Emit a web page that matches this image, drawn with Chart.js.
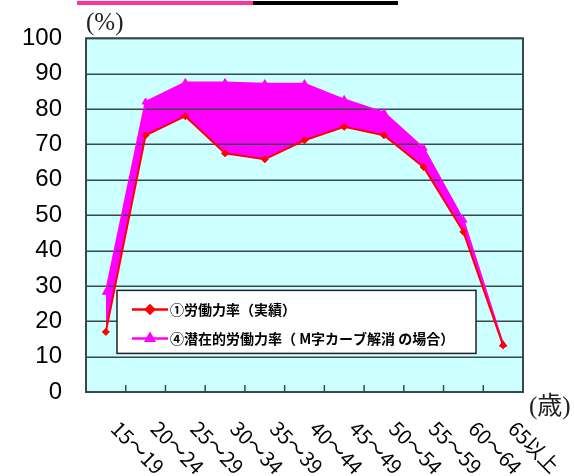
<!DOCTYPE html>
<html>
<head>
  <meta charset="utf-8">
  <title>労働力率</title>
  <script src="https://cdn.jsdelivr.net/npm/chart.js"></script>
  <style>
    html, body { margin: 0; padding: 0; background: #fff; }
    #wrap { width: 574px; height: 476px; }
  </style>
</head>
<body>
  <div id="wrap"><canvas id="laborChart" width="574" height="476"></canvas></div>

  <script>
    const ageGroups = ['15～19', '20～24', '25～29', '30～34', '35～39', '40～44',
                       '45～49', '50～54', '55～59', '60～64', '65以上'];
    const actualRate = [17, 72.6, 78, 67.5, 65.8, 71.2, 75, 72.6, 63.6, 45.3, 13.2];
    const potentialRate = [28.2, 82, 87.5, 87.5, 87.2, 87.2, 82.7, 79, 68.9, 48.6, 13.4];
    const seriesNames = ['①労働力率（実績）', '④潜在的労働力率（ M字カーブ解消 の場合）'];

    const gridColor = '#3c4848';
    const jpFont = "'Noto Sans CJK JP', sans-serif";

    const decor = {
      id: 'decor',
      beforeDraw(chart) {
        const { ctx, chartArea: a } = chart;
        ctx.save();
        ctx.fillStyle = '#CCFFFF';
        ctx.fillRect(a.left, a.top, a.right - a.left, a.bottom - a.top);
        ctx.restore();
      },
      // gridlines over the fill, under the lines
      beforeDatasetDraw(chart, args) {
        if (args.index !== 1) return;
        const { ctx, chartArea: a } = chart;
        const ys = chart.scales.y;
        ctx.save();
        ctx.strokeStyle = gridColor;
        ctx.lineWidth = 1.5;
        ys.ticks.forEach(t => {
          const py = Math.round(ys.getPixelForValue(t.value)) + 0.25;
          ctx.beginPath();
          ctx.moveTo(a.left, py);
          ctx.lineTo(a.right, py);
          ctx.stroke();
        });
        ctx.restore();
      },
      afterDatasetsDraw(chart) {
        const { ctx, chartArea: a } = chart;
        const xs = chart.scales.x;
        ctx.save();
        // plot border
        ctx.strokeStyle = gridColor;
        ctx.lineWidth = 2;
        ctx.strokeRect(a.left, a.top, a.right - a.left, a.bottom - a.top);
        // inward tick marks between categories
        ctx.lineWidth = 1.5;
        for (let i = 1; i < ageGroups.length; i++) {
          const px = (xs.getPixelForValue(i - 1) + xs.getPixelForValue(i)) / 2;
          ctx.beginPath();
          ctx.moveTo(px, a.bottom);
          ctx.lineTo(px, a.bottom - 7);
          ctx.stroke();
        }
        // legend box
        const lx = a.left + 31, ly = a.top + 252, lw = 359, lh = 63;
        ctx.fillStyle = '#ffffff';
        ctx.fillRect(lx, ly, lw, lh);
        ctx.strokeStyle = '#222';
        ctx.lineWidth = 1.5;
        ctx.strokeRect(lx, ly, lw, lh);
        const items = [
          { color: '#FF0000', style: 'rectRot', r: 4, y: ly + 19 },
          { color: '#FF00FF', style: 'triangle', r: 4.5, y: ly + 48 }
        ];
        items.forEach((it, i) => {
          ctx.strokeStyle = it.color;
          ctx.lineWidth = 2.5;
          ctx.beginPath();
          ctx.moveTo(lx + 15, it.y);
          ctx.lineTo(lx + 51, it.y);
          ctx.stroke();
          ctx.fillStyle = it.color;
          Chart.helpers.drawPoint(ctx, { pointStyle: it.style, radius: it.r, rotation: 0, borderWidth: 1 }, lx + 33, it.y);
          ctx.fillStyle = '#000';
          ctx.font = "bold 14px " + jpFont;
          ctx.textAlign = 'left';
          ctx.textBaseline = 'middle';
          ctx.fillText(seriesNames[i], lx + 53, it.y);
        });
        ctx.restore();
      },
      afterDraw(chart) {
        const { ctx, chartArea: a } = chart;
        const xs = chart.scales.x;
        ctx.save();
        // title underline fragment at the top edge
        ctx.fillStyle = '#FF3399';
        ctx.fillRect(77, 1, 176, 4);
        ctx.fillStyle = '#000';
        ctx.fillRect(253, 1, 145, 4);
        // unit labels
        ctx.fillStyle = '#222';
        ctx.textAlign = 'left';
        ctx.textBaseline = 'bottom';
        ctx.font = "25px 'Liberation Serif', serif";
        ctx.fillText('(%)', a.left, a.top - 2);
        ctx.font = "25px 'Liberation Serif', 'Noto Sans CJK JP', serif";
        ctx.textBaseline = 'middle';
        ctx.fillText('(歳)', a.right + 6, a.bottom + 15);
        // rotated category labels
        ctx.fillStyle = '#000';
        ctx.font = "20px " + jpFont;
        ctx.textBaseline = 'middle';
        ageGroups.forEach((lab, i) => {
          const px = xs.getPixelForValue(i);
          ctx.save();
          ctx.translate(px + 9, a.bottom + 33);
          ctx.rotate(Math.PI / 4);
          ctx.fillText(lab, 0, 0);
          ctx.restore();
        });
        ctx.restore();
      }
    };

    const ctx = document.getElementById('laborChart').getContext('2d');
    new Chart(ctx, {
      type: 'line',
      data: {
        labels: ageGroups,
        datasets: [
          {
            label: seriesNames[0],
            data: actualRate,
            borderColor: '#FF0000',
            backgroundColor: '#FF0000',
            borderWidth: 2,
            pointStyle: 'rectRot',
            pointRadius: 3.5,
            pointBorderWidth: 1,
            tension: 0,
            fill: false
          },
          {
            label: seriesNames[1],
            data: potentialRate,
            borderColor: '#FF00FF',
            backgroundColor: '#FF00FF',
            pointBackgroundColor: '#FF00FF',
            borderWidth: 2,
            pointStyle: 'triangle',
            pointRadius: 4,
            pointBorderWidth: 1,
            tension: 0,
            fill: '-1'
          }
        ]
      },
      options: {
        responsive: false,
        animation: false,
        layout: { padding: { top: 38, right: 51, bottom: 84, left: 0 } },
        plugins: {
          legend: { display: false },
          tooltip: { enabled: false }
        },
        scales: {
          x: {
            display: false,
            offset: true
          },
          y: {
            min: 0,
            max: 100,
            afterFit(scale) { scale.width = 86; },
            border: { display: false },
            grid: { display: false, drawTicks: false },
            ticks: {
              stepSize: 10,
              padding: 24,
              color: '#000',
              font: { family: "'Liberation Sans', Arial, sans-serif", size: 24 }
            }
          }
        }
      },
      plugins: [decor]
    });
  </script>
</body>
</html>
